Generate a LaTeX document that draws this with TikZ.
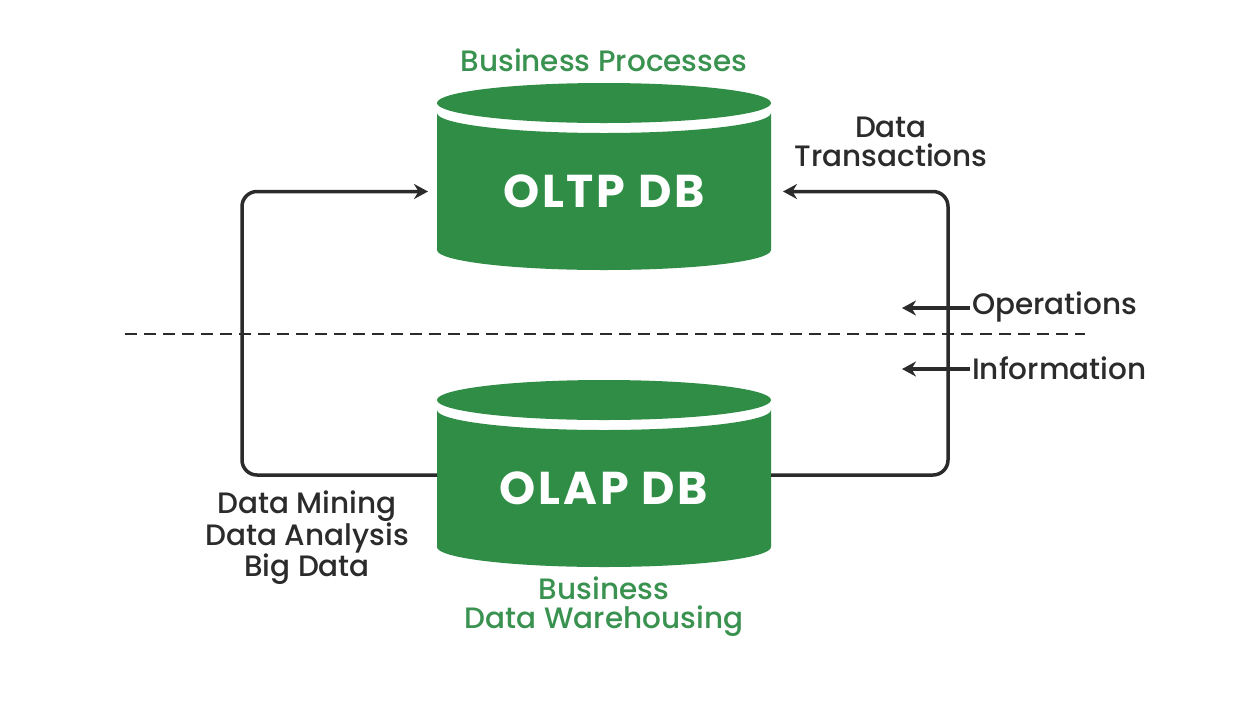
\documentclass[tikz,border=0pt]{standalone}
\usepackage{fontspec}
\setmainfont{Poppins}[UprightFont=* Medium,BoldFont=* Bold]
\usetikzlibrary{arrows.meta,calc}
\definecolor{dbgreen}{HTML}{2F8D46}
\definecolor{lblgreen}{HTML}{3A9250}
\definecolor{ink}{HTML}{2B2B2B}
\begin{document}
\begin{tikzpicture}[x=1pt,y=1pt,
  dbbody/.style={minimum width=334pt,minimum height=157pt,inner sep=0pt,outer sep=0pt,text=white,font=\fontsize{46}{50}\selectfont\bfseries\addfontfeatures{LetterSpace=6}},
  conn/.style={draw=ink,line width=3.5pt,rounded corners=15pt,-{Stealth[length=14pt,width=15pt]}},
  sep/.style={draw=ink,line width=2.5pt,dash pattern=on 12pt off 7pt},
  lbl/.style={text=ink,font=\fontsize{29.5}{29}\selectfont,align=center,inner sep=2pt},
  glbl/.style={text=lblgreen,font=\fontsize{29.5}{29}\selectfont,align=center,inner sep=2pt}]
\useasboundingbox[fill=white] (0,0) rectangle (1245,-721);
% cylinders
\foreach \cy in {0,297}{
  \fill[dbgreen] (604,-103-\cy) ellipse [x radius=167, y radius=20];
  \fill[dbgreen] (437,-113-\cy) arc[start angle=180,end angle=360,x radius=167,y radius=20]
    -- (771,-250-\cy) arc[start angle=0,end angle=-180,x radius=167,y radius=20] -- cycle;
}
\node[dbbody] (oltp) at (604,-191.5) {OLTP DB};
\node[dbbody] (olap) at (604,-488.5) {OLAP DB};
% labels
\node[glbl] (bp) at (604,-60) {Business Processes};
\node[glbl] (bdw) at (604,-607) {Business\\Data Warehousing};
\node[lbl] (dt) at (891,-142) {Data\\Transactions};
\node[lbl] (dm) at (307,-538) {Data Mining\\Data Analysis\\Big Data};
\node[lbl,anchor=west] (ops) at (970,-307) {Operations};
\node[lbl,anchor=west] (info) at (970,-368) {Information};
% connectors
\draw[conn] ([yshift=13.5pt]olap.west) -- ++(-195,0) |- ([xshift=-9pt]oltp.west);
\draw[conn] ([yshift=13.5pt]olap.east) -- ++(177,0) |- ([xshift=12pt]oltp.east);
\draw[conn] ([yshift=-1pt]ops.west) -- ++(-68,0);
\draw[conn] ([yshift=-1pt]info.west) -- ++(-68,0);
% separator
\coordinate (sepL) at (125,-334);
\coordinate (sepR) at (1085,-334);
\draw[sep] (sepL) -- (sepR);
\end{tikzpicture}
\end{document}
